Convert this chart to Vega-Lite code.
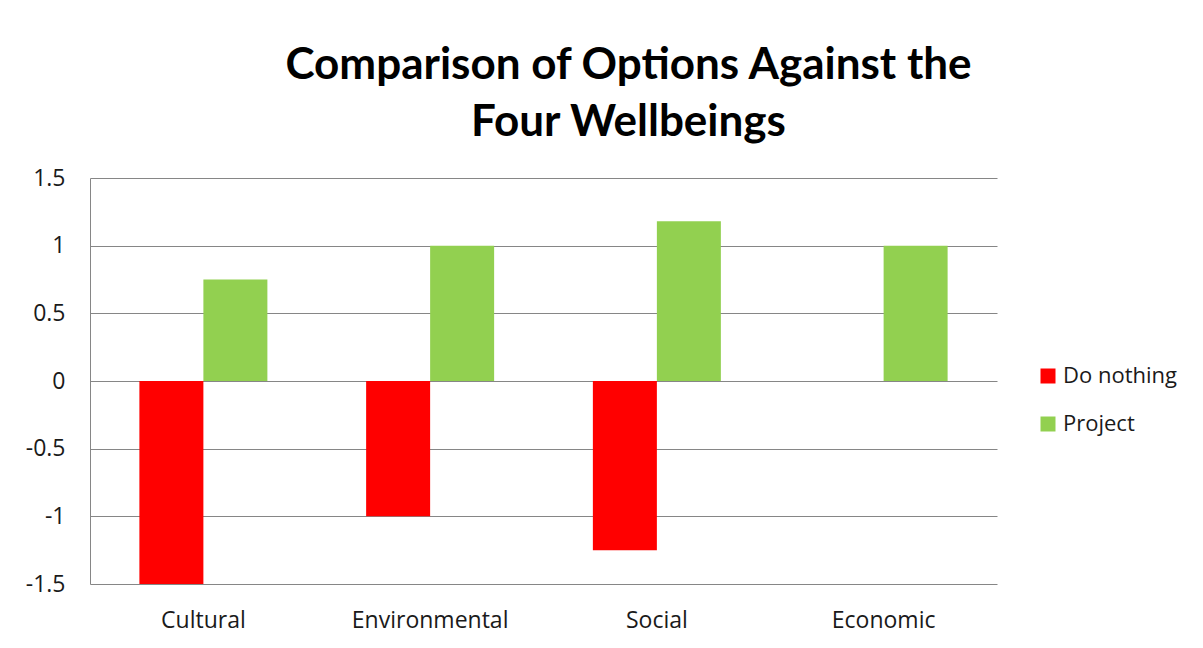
{
  "$schema": "https://vega.github.io/schema/vega-lite/v6.json",
  "width": 907,
  "height": 406,
  "autosize": {"type": "none"},
  "padding": {"left": 90, "top": 178, "right": 206, "bottom": 64},
  "background": "white",
  "title": {
    "text": ["Comparison of Options Against the", "Four Wellbeings"],
    "font": "Lato",
    "fontWeight": "bold",
    "fontSize": 44,
    "lineHeight": 57,
    "color": "#000000",
    "anchor": "middle",
    "dx": 85,
    "offset": 22
  },
  "data": {
    "values": [
      {"category": "Cultural", "option": "Do nothing", "value": -1.5},
      {"category": "Cultural", "option": "Project", "value": 0.75},
      {"category": "Environmental", "option": "Do nothing", "value": -1},
      {"category": "Environmental", "option": "Project", "value": 1},
      {"category": "Social", "option": "Do nothing", "value": -1.25},
      {"category": "Social", "option": "Project", "value": 1.18},
      {"category": "Economic", "option": "Do nothing", "value": 0},
      {"category": "Economic", "option": "Project", "value": 1}
    ]
  },
  "mark": {"type": "bar"},
  "encoding": {
    "x": {
      "field": "category",
      "type": "nominal",
      "sort": ["Cultural", "Environmental", "Social", "Economic"],
      "scale": {"paddingInner": 0.4355, "paddingOuter": 0.2178},
      "axis": {
        "title": null,
        "labelAngle": 0,
        "labelFont": "Open Sans",
        "labelFontSize": 23,
        "labelColor": "#1a1a1a",
        "labelPadding": 25,
        "ticks": false,
        "domain": false
      }
    },
    "xOffset": {
      "field": "option",
      "type": "nominal",
      "scale": {"paddingInner": 0, "paddingOuter": 0}
    },
    "y": {
      "field": "value",
      "type": "quantitative",
      "scale": {"domain": [-1.5, 1.5], "nice": false, "zero": false},
      "axis": {
        "title": null,
        "values": [-1.5, -1, -0.5, 0, 0.5, 1, 1.5],
        "labelExpr": "datum.value < 0 ? '-' + format(-datum.value, '') : format(datum.value, '')",
        "labelFont": "Open Sans",
        "labelFontSize": 23,
        "labelColor": "#1a1a1a",
        "labelPadding": 25,
        "ticks": false,
        "domain": true,
        "domainColor": "#868686",
        "grid": true,
        "gridColor": "#868686",
        "gridWidth": 1
      }
    },
    "color": {
      "field": "option",
      "type": "nominal",
      "scale": {"domain": ["Do nothing", "Project"], "range": ["#FF0000", "#92D050"]},
      "legend": {
        "title": null,
        "orient": "none",
        "legendX": 947,
        "legendY": 187,
        "symbolType": "square",
        "symbolSize": 225,
        "symbolStrokeWidth": 0,
        "labelFont": "Open Sans",
        "labelFontSize": 22,
        "labelColor": "#1a1a1a",
        "rowPadding": 26,
        "labelOffset": 4
      }
    }
  },
  "config": {
    "view": {"stroke": null}
  }
}
